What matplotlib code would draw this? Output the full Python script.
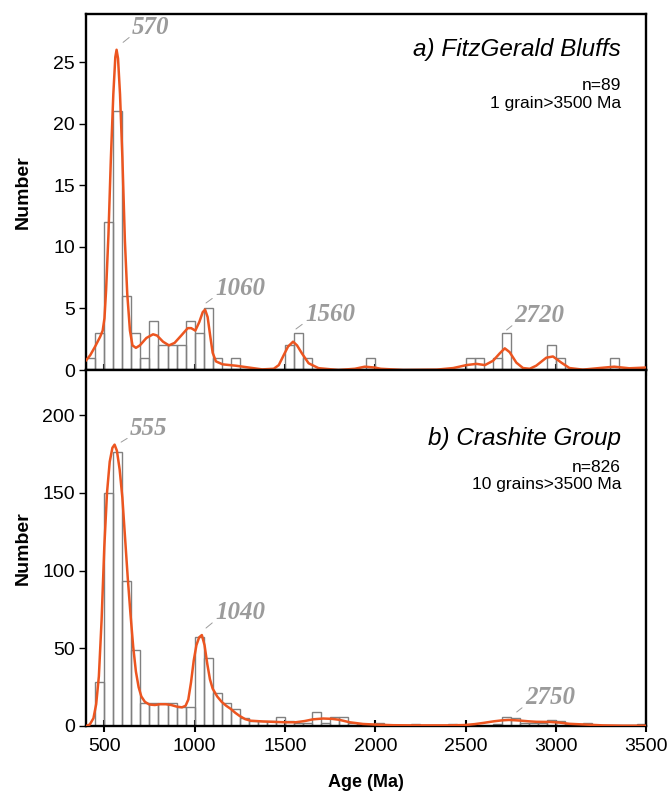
import numpy as np
import matplotlib
matplotlib.use("Agg")
import matplotlib.pyplot as plt

plt.rcParams["font.family"] = ["Liberation Sans", "DejaVu Sans"]

# -----------------------------------------------------------
# Data (50 Ma bins, left edge of bin -> count)
# -----------------------------------------------------------

top_bin_start   = [400, 450, 500, 550, 600, 650, 700, 750, 800, 850, 900, 950,
                   1000, 1050, 1100, 1200, 1500, 1550, 1600, 1950, 2500, 2550,
                   2650, 2700, 2950, 3000, 3300]
top_counts      = [1, 3, 12, 21, 6, 3, 1, 4, 2, 2, 2, 4,
                   3, 5, 1, 1, 2, 3, 1, 1, 1, 1,
                   1, 3, 2, 1, 1]

bot_bin_start   = [450, 500, 550, 600, 650, 700, 750, 800, 850, 900, 950,
                   1000, 1050, 1100, 1150, 1200, 1250, 1300, 1350, 1400, 1450,
                   1500, 1550, 1600, 1650, 1700, 1750, 1800, 1850, 1900, 1950,
                   2000, 2200, 2400, 2650, 2700, 2750, 2800, 2850, 2900, 2950,
                   3000, 3050, 3100, 3150, 3450]
bot_counts      = [28, 150, 176, 93, 49, 15, 15, 15, 15, 12, 12,
                   57, 44, 21, 15, 11, 5, 3, 3, 3, 6,
                   3, 2, 2, 9, 2, 6, 6, 2, 1, 1,
                   2, 1, 1, 1, 6, 5, 2, 2, 2, 4,
                   3, 1, 1, 2, 1]

# probability density curves (scaled to counts)
top_curve_age   = [400, 422, 449, 477, 491, 501, 510, 523, 536, 550, 561, 568,
                   576, 587, 600, 614, 627, 642, 656, 675, 697, 733, 770, 792,
                   825, 858, 889, 926, 962, 981, 1004, 1026, 1045, 1058, 1072,
                   1087, 1100, 1118, 1155, 1228, 1301, 1374, 1438, 1466, 1493,
                   1517, 1545, 1567, 1594, 1631, 1686, 1796, 1887, 1942, 1997,
                   2030, 2156, 2340, 2432, 2505, 2560, 2607, 2652, 2689, 2717,
                   2744, 2781, 2818, 2855, 2891, 2947, 2984, 3030, 3075, 3149,
                   3241, 3323, 3406, 3500]
top_curve_val   = [0.8, 1.2, 1.9, 2.7, 3.2, 4.2, 6.5, 11.0, 17.0, 22.4, 25.4, 26.0,
                   25.3, 22.4, 17.3, 10.5, 6.2, 3.2, 2.0, 1.8, 2.0, 2.6, 2.9, 2.8,
                   2.3, 2.0, 2.2, 2.8, 3.4, 3.4, 3.2, 3.9, 4.7, 4.9, 4.3,
                   2.7, 1.4, 0.7, 0.46, 0.35, 0.2, 0.05, 0.1, 0.4, 1.2,
                   1.9, 2.3, 2.0, 1.35, 0.55, 0.15, 0.0, 0.1, 0.27, 0.2,
                   0.1, 0.0, 0.03, 0.16, 0.4, 0.5, 0.4, 0.75, 1.35, 1.76,
                   1.45, 0.6, 0.16, 0.1, 0.35, 1.0, 1.1, 0.6, 0.16, 0.03,
                   0.16, 0.27, 0.14, 0.2]

bot_curve_age   = [400, 420, 440, 455, 470, 485, 500, 515, 530, 545, 557, 570,
                   585, 600, 615, 630, 645, 660, 675, 690, 705, 725, 750, 780,
                   810, 840, 870, 900, 930, 950, 965, 980, 995, 1010, 1025,
                   1040, 1055, 1070, 1085, 1100, 1125, 1150, 1175, 1200, 1225,
                   1250, 1280, 1310, 1380, 1450, 1500, 1560, 1610, 1656, 1711,
                   1760, 1800, 1858, 1932, 2000, 2100, 2200, 2300, 2400, 2494,
                   2550, 2600, 2656, 2700, 2740, 2800, 2850, 2891, 2965, 3020,
                   3075, 3167, 3259, 3369, 3500]
bot_curve_val   = [0, 1, 5, 14, 32, 68, 115, 150, 170, 179, 181, 177,
                   165, 147, 121, 95, 72, 51, 35, 25, 19, 15.5, 13.8, 13.5,
                   14, 14, 13.5, 12.5, 12, 13, 17, 28, 42, 52, 57,
                   58.5, 52, 40, 30, 24, 19, 15.5, 13, 11, 8.5,
                   6.4, 4.4, 3.4, 2.9, 2.6, 2.4, 2.4, 3.2, 4.3, 4.8,
                   4.6, 4.0, 2.4, 1.3, 0.9, 0.5, 0.4, 0.4, 0.4, 0.6,
                   1.2, 2.0, 3.0, 3.6, 3.9, 3.5, 3.0, 2.7, 2.6, 2.2,
                   1.4, 0.9, 0.4, 0.2, 0.2]

top_peaks       = ["570", "1060", "1560", "2720"]
bot_peaks       = ["555", "1040", "2750"]

# -----------------------------------------------------------
# Layout / style
# -----------------------------------------------------------

bin_width       = 50
bar_color       = "#808080"
curve_color     = "#ec5520"
label_color     = "#9b9b9b"
tick_fontsize   = 14

# leader start (x, y) and text anchor (x, y) in data units
top_label_pos   = [((604, 26.6), (653, 27.3)),
                   ((1063, 5.44), (1113, 6.1)),
                   ((1561, 3.33), (1611, 4.0)),
                   ((2727, 3.25), (2772, 3.9))]
bot_label_pos   = [((593, 182.6), (642, 187.1)),
                   ((1063, 63.0), (1113, 68.8)),
                   ((2783, 9.0), (2828, 14.1))]

fig             = plt.figure(figsize=(6.7, 7.93), dpi=100)
ax_top          = fig.add_axes([0.1287, 0.5334, 0.8358, 0.4489])
ax_bot          = fig.add_axes([0.1287, 0.0845, 0.8358, 0.4489])


def draw_panel(ax, starts, counts, c_age, c_val, peaks, label_pos, ymax, yticks):
    ax.bar(starts, counts, width=bin_width, align="edge", fill=False,
           edgecolor=bar_color, linewidth=1.0, zorder=2)
    ax.plot(c_age, c_val, color=curve_color, linewidth=1.8, zorder=3,
            solid_joinstyle="round")
    for txt, (p0, p1) in zip(peaks, label_pos):
        ax.annotate(txt, xy=p0, xytext=p1, textcoords="data",
                    ha="left", va="baseline", fontsize=18,
                    family=["Liberation Serif", "DejaVu Serif"],
                    fontweight="bold", fontstyle="italic", color=label_color,
                    arrowprops=dict(arrowstyle="-", color=label_color,
                                    linewidth=0.7, shrinkA=0, shrinkB=0,
                                    relpos=(0, 0.15)))
    ax.set_xlim(400, 3500)
    ax.set_ylim(0, ymax)
    ax.set_yticks(yticks)
    ax.set_xticks([500, 1000, 1500, 2000, 2500, 3000, 3500])
    for s in ax.spines.values():
        s.set_linewidth(1.7)
    ax.tick_params(axis="x", direction="inout", length=9, width=1.5,
                   labelsize=tick_fontsize, pad=4)
    ax.tick_params(axis="y", direction="out", length=5, width=1.0,
                   labelsize=tick_fontsize, pad=3)
    ax.set_ylabel("Number", fontsize=14, fontweight="bold")
    ax.yaxis.set_label_coords(-0.098, 0.5)


draw_panel(ax_top, top_bin_start, top_counts, top_curve_age, top_curve_val,
           top_peaks, top_label_pos, 28.9, [0, 5, 10, 15, 20, 25])
draw_panel(ax_bot, bot_bin_start, bot_counts, bot_curve_age, bot_curve_val,
           bot_peaks, bot_label_pos, 229, [0, 50, 100, 150, 200])

ax_top.tick_params(axis="x", labelbottom=False)
ax_bot.set_xlabel("Age (Ma)", fontsize=13, fontweight="bold", labelpad=14)

ax_top.text(0.955, 0.882, "a) FitzGerald Bluffs", transform=ax_top.transAxes,
            ha="right", va="baseline", fontsize=17.5, fontstyle="italic")
ax_top.text(0.955, 0.787, "n=89", transform=ax_top.transAxes,
            ha="right", va="baseline", fontsize=12.5)
ax_top.text(0.955, 0.736, "1 grain>3500 Ma", transform=ax_top.transAxes,
            ha="right", va="baseline", fontsize=12.5)

ax_bot.text(0.955, 0.789, "b) Crashite Group", transform=ax_bot.transAxes,
            ha="right", va="baseline", fontsize=17.5, fontstyle="italic")
ax_bot.text(0.955, 0.713, "n=826", transform=ax_bot.transAxes,
            ha="right", va="baseline", fontsize=12.5)
ax_bot.text(0.955, 0.665, "10 grains>3500 Ma", transform=ax_bot.transAxes,
            ha="right", va="baseline", fontsize=12.5)

fig.savefig("out.png", dpi=100)
